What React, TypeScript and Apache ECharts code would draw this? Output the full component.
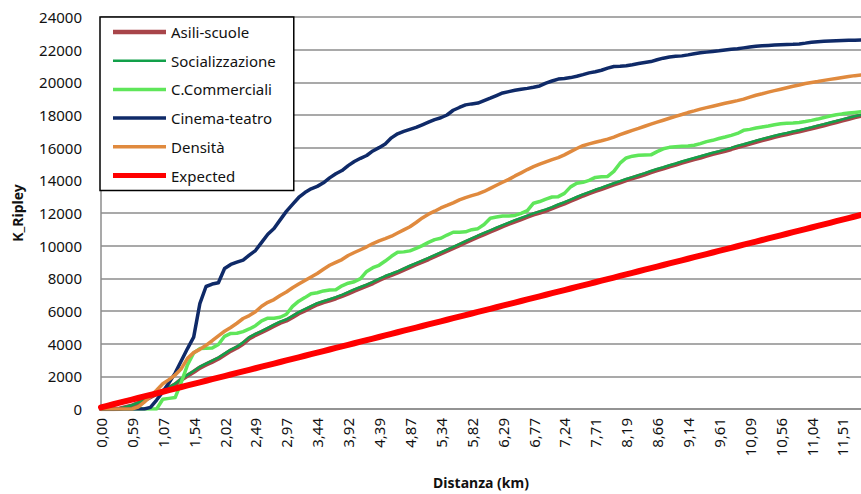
import React, { useEffect, useRef } from "react";
import * as echarts from "echarts";

// Distance tick labels (km), shown every 5th sample
const distanceTicks = [
  "0,00", "0,59", "1,07", "1,54", "2,02", "2,49", "2,97", "3,44", "3,92", "4,39",
  "4,87", "5,34", "5,82", "6,29", "6,77", "7,24", "7,71", "8,19", "8,66", "9,14",
  "9,61", "10,09", "10,56", "11,04", "11,51",
];
const TICK_EVERY = 5;
const SAMPLE_COUNT = 124;
const categories = Array.from({ length: SAMPLE_COUNT }, (_, i) => String(i));

const asiliScuole = [
  0, 0, 0, 20, 110, 200, 360, 540, 740, 920,
  1100, 1290, 1500, 1800, 2040, 2270, 2530, 2720, 2900, 3090,
  3330, 3570, 3760, 4010, 4330, 4540, 4710, 4900, 5090, 5280,
  5420, 5630, 5860, 6040, 6230, 6410, 6540, 6650, 6780, 6920,
  7080, 7250, 7400, 7550, 7710, 7900, 8070, 8210, 8360, 8530,
  8700, 8860, 9020, 9180, 9350, 9520, 9690, 9860, 10030, 10210,
  10380, 10550, 10710, 10870, 11030, 11190, 11340, 11490, 11630, 11770,
  11910, 12030, 12150, 12290, 12450, 12590, 12750, 12910, 13070, 13210,
  13350, 13480, 13620, 13750, 13880, 14010, 14130, 14250, 14370, 14500,
  14620, 14730, 14850, 14960, 15080, 15190, 15300, 15400, 15510, 15620,
  15710, 15810, 15920, 16040, 16140, 16250, 16360, 16460, 16560, 16660,
  16750, 16830, 16920, 17000, 17090, 17180, 17280, 17370, 17470, 17570,
  17670, 17770, 17870, 17960,
];

const socializzazione = [
  0, 0, 0, 30, 130, 230, 390, 580, 780, 960,
  1140, 1330, 1550, 1860, 2090, 2330, 2590, 2780, 2960, 3150,
  3390, 3640, 3820, 4080, 4400, 4600, 4770, 4970, 5160, 5350,
  5480, 5700, 5930, 6110, 6300, 6480, 6600, 6720, 6850, 6990,
  7150, 7320, 7470, 7620, 7780, 7970, 8140, 8280, 8430, 8600,
  8770, 8930, 9090, 9250, 9420, 9590, 9760, 9930, 10100, 10280,
  10450, 10620, 10780, 10940, 11100, 11260, 11410, 11560, 11700, 11840,
  11980, 12100, 12220, 12360, 12520, 12660, 12820, 12980, 13140, 13280,
  13420, 13550, 13690, 13820, 13950, 14080, 14200, 14320, 14440, 14570,
  14690, 14800, 14920, 15030, 15150, 15260, 15370, 15470, 15580, 15690,
  15780, 15880, 15990, 16110, 16210, 16320, 16430, 16530, 16630, 16730,
  16820, 16900, 16990, 17070, 17160, 17250, 17350, 17440, 17540, 17630,
  17730, 17830, 17920, 18000,
];

const centriCommerciali = [
  0, 0, 0, 0, 0, 0, 0, 0, 0, 0,
  600, 650, 700, 1650, 2700, 3430, 3700, 3720, 3730, 3950,
  4450, 4630, 4640, 4740, 4900, 5100, 5400, 5560, 5560, 5620,
  5800, 6280, 6600, 6820, 7060, 7120, 7230, 7290, 7300, 7540,
  7700, 7790, 7980, 8420, 8650, 8800, 9060, 9350, 9600, 9620,
  9680, 9830, 10000, 10200, 10370, 10450, 10650, 10820, 10820, 10850,
  10980, 11040, 11300, 11680, 11750, 11820, 11820, 11850, 11980, 12150,
  12600, 12700, 12850, 12980, 13000, 13200, 13600, 13820, 13880, 14000,
  14180, 14220, 14240, 14550, 15050, 15370, 15480, 15540, 15550, 15560,
  15760, 15930, 16020, 16060, 16080, 16100, 16150, 16250, 16370, 16450,
  16560, 16650, 16750, 16870, 17060, 17120, 17200, 17270, 17330, 17400,
  17460, 17490, 17510, 17540, 17600, 17670, 17750, 17850, 17940, 18010,
  18070, 18120, 18160, 18200,
];

const cinemaTeatro = [
  0, 0, 0, 0, 0, 0, 0, 0, 100, 550,
  1050, 1600, 2200, 2950, 3700, 4400, 6450, 7500, 7650, 7730,
  8600, 8850, 8990, 9120, 9420, 9700, 10200, 10700, 11050, 11580,
  12100, 12530, 12950, 13250, 13480, 13630, 13850, 14150, 14400, 14600,
  14900, 15150, 15350, 15520, 15800, 16000, 16230, 16600, 16850, 17000,
  17120, 17240, 17400, 17560, 17720, 17830, 18000, 18290, 18460, 18620,
  18680, 18730, 18880, 19030, 19190, 19350, 19430, 19510, 19580, 19630,
  19700, 19780, 19950, 20080, 20200, 20240, 20290, 20370, 20470, 20580,
  20650, 20740, 20870, 20970, 20990, 21020, 21080, 21150, 21210, 21270,
  21380, 21480, 21550, 21590, 21620, 21680, 21750, 21810, 21850, 21890,
  21930, 21980, 22020, 22060, 22110, 22160, 22210, 22240, 22260, 22280,
  22300, 22320, 22330, 22350, 22400, 22460, 22490, 22510, 22530, 22545,
  22555, 22570, 22580, 22590,
];

const densita = [
  0, 0, 0, 0, 0, 0, 120, 420, 780, 1150,
  1550, 1800, 2080, 2470, 3100, 3450, 3650, 3900, 4180, 4480,
  4760, 4990, 5250, 5540, 5720, 5950, 6290, 6530, 6700, 6950,
  7160, 7420, 7650, 7870, 8080, 8300, 8560, 8800, 8980, 9150,
  9400, 9580, 9750, 9930, 10130, 10290, 10430, 10580, 10780, 10970,
  11160, 11420, 11700, 11930, 12110, 12310, 12460, 12620, 12800, 12940,
  13060, 13170, 13320, 13510, 13700, 13880, 14060, 14270, 14460, 14660,
  14840, 14990, 15130, 15270, 15390, 15560, 15760, 15950, 16120, 16230,
  16330, 16420, 16520, 16650, 16800, 16930, 17060, 17180, 17310, 17440,
  17560, 17680, 17800, 17920, 18030, 18150, 18250, 18360, 18450, 18540,
  18630, 18720, 18800, 18880, 18970, 19090, 19210, 19300, 19400, 19490,
  19580, 19670, 19760, 19840, 19930, 19990, 20050, 20120, 20180, 20240,
  20300, 20360, 20410, 20450,
];

const expected = [
  100, 196, 292, 387, 483, 579, 675, 770, 866, 962,
  1058, 1153, 1249, 1345, 1441, 1537, 1632, 1728, 1824, 1920,
  2015, 2111, 2207, 2303, 2398, 2494, 2590, 2686, 2782, 2877,
  2973, 3069, 3165, 3260, 3356, 3452, 3548, 3643, 3739, 3835,
  3931, 4027, 4122, 4218, 4314, 4410, 4505, 4601, 4697, 4793,
  4889, 4984, 5080, 5176, 5272, 5367, 5463, 5559, 5655, 5750,
  5846, 5942, 6038, 6134, 6229, 6325, 6421, 6517, 6612, 6708,
  6804, 6900, 6995, 7091, 7187, 7283, 7379, 7474, 7570, 7666,
  7762, 7857, 7953, 8049, 8145, 8240, 8336, 8432, 8528, 8624,
  8719, 8815, 8911, 9007, 9102, 9198, 9294, 9390, 9486, 9581,
  9677, 9773, 9869, 9964, 10060, 10156, 10252, 10347, 10443, 10539,
  10635, 10731, 10826, 10922, 11018, 11114, 11209, 11305, 11401, 11497,
  11592, 11688, 11784, 11880,
];

const FONT = "'Noto Sans', 'Open Sans', sans-serif";
const TEXT = "#111111";
const GRID = "#8c8c8c";
const LEGEND_W = 53;
const LEGEND_H = 14;

// Legend swatch: a horizontal bar of the given thickness, centred in the item box
const barIcon = (thickness: number) => {
  const top = (LEGEND_H - thickness) / 2;
  return `path://M0,0 M${LEGEND_W},${LEGEND_H} M0,${top} H${LEGEND_W} V${top + thickness} H0 Z`;
};

const seriesDefs = [
  { name: "Asili-scuole", data: asiliScuole, color: "#a8454a", width: 4.5, legendBar: 4.5 },
  { name: "Socializzazione", data: socializzazione, color: "#12a04a", width: 2.5, legendBar: 2.5 },
  { name: "C.Commerciali", data: centriCommerciali, color: "#5fe65a", width: 3.5, legendBar: 3.5 },
  { name: "Cinema-teatro", data: cinemaTeatro, color: "#0f2a68", width: 3.5, legendBar: 3.5 },
  { name: "Densità", data: densita, color: "#e08a3e", width: 3.5, legendBar: 3.5 },
  { name: "Expected", data: expected, color: "#ff0000", width: 6, legendBar: 5 },
];

export default function App() {
  const ref = useRef<HTMLDivElement>(null);

  useEffect(() => {
    if (!ref.current) return;
    const chart = echarts.init(ref.current, null, { renderer: "svg" });
    chart.setOption({
      animation: false,
      backgroundColor: "#ffffff",
      textStyle: { fontFamily: FONT },
      grid: {
        left: 101,
        right: 0,
        top: 17,
        bottom: 85,
        containLabel: false,
        outerBoundsMode: "none",
      },
      legend: {
        orient: "vertical",
        left: 100,
        top: 17,
        data: seriesDefs.map((s) => ({ name: s.name, icon: barIcon(s.legendBar) })),
        itemWidth: LEGEND_W,
        itemHeight: LEGEND_H,
        itemGap: 12.7,
        symbolKeepAspect: false,
        padding: [7, 18, 7, 13],
        backgroundColor: "#ffffff",
        borderColor: "#000000",
        borderWidth: 1.5,
        borderRadius: 0,
        textStyle: { fontFamily: FONT, fontSize: 15, color: TEXT, lineHeight: 16 },
      },
      xAxis: {
        type: "category",
        data: categories,
        boundaryGap: false,
        name: "Distanza (km)",
        nameLocation: "middle",
        nameGap: 66,
        nameTextStyle: { fontFamily: FONT, fontSize: 14, fontWeight: "bold", color: TEXT },
        axisLine: { lineStyle: { color: GRID, width: 1.5 } },
        axisTick: { show: false },
        splitLine: { show: false },
        axisLabel: {
          interval: TICK_EVERY - 1,
          rotate: 90,
          margin: 9,
          fontSize: 15,
          color: TEXT,
          fontFamily: FONT,
          formatter: (_v: string, idx: number) =>
            idx % TICK_EVERY === 0 ? distanceTicks[idx / TICK_EVERY] ?? "" : "",
        },
      },
      yAxis: {
        type: "value",
        min: 0,
        max: 24000,
        interval: 2000,
        name: "K_Ripley",
        nameLocation: "middle",
        nameGap: 77,
        nameTextStyle: { fontFamily: FONT, fontSize: 14, fontWeight: "bold", color: TEXT },
        axisLine: { show: true, lineStyle: { color: GRID, width: 1.5 } },
        axisTick: { show: false },
        splitLine: { show: true, lineStyle: { color: GRID, width: 1.5 } },
        axisLabel: {
          fontSize: 15,
          color: TEXT,
          margin: 19,
          fontFamily: FONT,
          formatter: (v: number) => String(v),
        },
      },
      series: seriesDefs.map((s) => ({
        name: s.name,
        type: "line",
        data: s.data,
        symbol: "none",
        smooth: false,
        color: s.color,
        itemStyle: { color: s.color },
        lineStyle: { color: s.color, width: s.width, join: "round", cap: "round" },
      })),
    });
    return () => chart.dispose();
  }, []);

  return (
    <div
      ref={ref}
      style={{ position: "fixed", left: 0, top: 0, width: 861, height: 494, background: "#fff" }}
    />
  );
}
